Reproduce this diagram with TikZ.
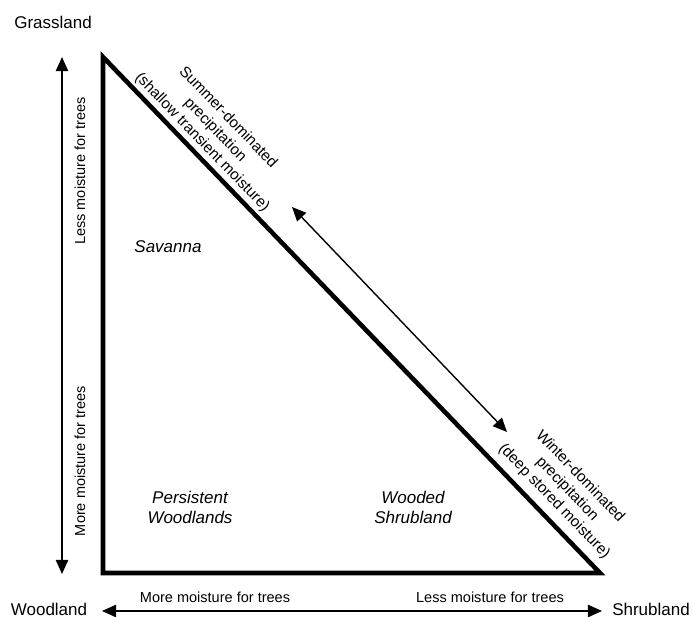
\documentclass[tikz,border=0pt]{standalone}
\usepackage{fontspec}
\setmainfont{Liberation Sans}
\usetikzlibrary{arrows.meta}
\begin{document}
\begin{tikzpicture}[x=0.03cm, y=0.03cm]
		\tikzstyle{every node}+=[inner sep=0pt]
		\tikzstyle{biome}=[font=\fontsize{14.5}{17}\selectfont]
		\tikzstyle{zone}=[font=\fontsize{14.5}{17}\selectfont\itshape, align=center]
		\tikzstyle{axis}=[font=\fontsize{12.4}{15}\selectfont]
		\tikzstyle{season}=[font=\fontsize{13}{15.3}\selectfont, align=center, rotate=-46]
		\tikzstyle{gradient}=[black, line width=1.2pt, {Triangle[length=12pt,width=10.5pt]}-{Triangle[length=12pt,width=10.5pt]}]
		\useasboundingbox (0,0) rectangle (693,-617);
		\coordinate (G) at (103,-57);
		\coordinate (W) at (103,-573);
		\coordinate (S) at (600,-573);
		\draw [black, line width=3.9pt, line join=miter] (G) -- (W) -- (S) -- cycle;
		\node [biome] (grass) at (53,-22) {Grassland};
		\node [biome] (wood) at (49,-609) {Woodland};
		\node [biome] (shrub) at (651,-609) {Shrubland};
		\coordinate (vtop) at (62,-57);
		\coordinate (vbot) at (62,-574);
		\draw [gradient] (vbot) -- (vtop);
		\node [axis, rotate=90] (vless) at (80,-171) {Less moisture for trees};
		\node [axis, rotate=90] (vmore) at (80,-461) {More moisture for trees};
		\coordinate (hleft) at (102,-611);
		\coordinate (hright) at (602,-611);
		\draw [gradient] (hleft) -- (hright);
		\node [axis] (hmore) at (215,-597) {More moisture for trees};
		\node [axis] (hless) at (490,-597) {Less moisture for trees};
		\coordinate (dtop) at (292,-207);
		\coordinate (dbot) at (507,-432);
		\draw [gradient] (dtop) -- (dbot);
		\node [season] (summer) at (215,-130) {Summer-dominated\\precipitation\\(shallow transient moisture)};
		\node [season] (winter) at (567,-489) {Winter-dominated\\precipitation\\(deep stored moisture)};
		\node [zone] (savanna) at (168,-247) {Savanna};
		\node [zone] (persist) at (190,-507) {Persistent\\Woodlands};
		\node [zone] (woodshrub) at (413,-507) {Wooded\\Shrubland};
	\end{tikzpicture}
\end{document}
